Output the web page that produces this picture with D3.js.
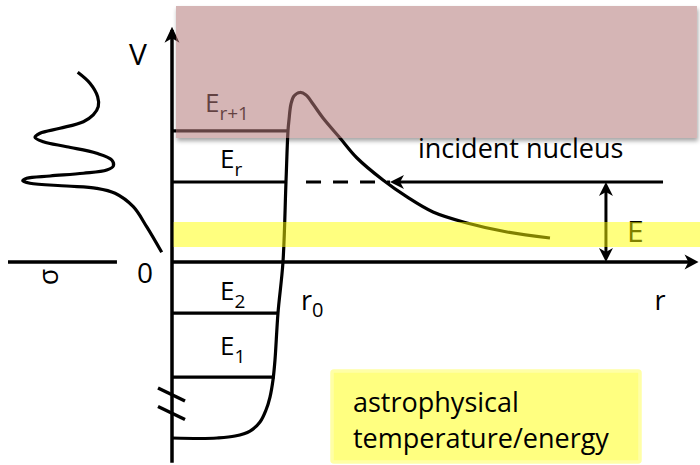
<!DOCTYPE html>
<html>
<head>
<meta charset="utf-8">
<script src="https://cdn.jsdelivr.net/npm/d3@7"></script>
<style>
  html, body { margin: 0; padding: 0; background: #fff; }
  svg { display: block; font-family: "Open Sans", sans-serif; }
</style>
</head>
<body>
<svg id="chart" width="700" height="465"></svg>
<script>
// ---------- data (r in arbitrary units, V in arbitrary energy units) ----------
const wellR = [0, 5.32, 8.56, 11.98, 14.83, 16.73, 17.87, 18.63, 19.2, 19.58, 20.15, 21.1, 21.67, 22.05, 22.24, 22.62, 23.19, 24.33, 25.48, 26.81, 28.71, 31.94, 35.17, 40.11, 44.68, 49.62, 56.08, 63.69, 71.86];
const wellV = [-22, -22.06, -22, -21.75, -21.13, -20, -18.5, -16.88, -14.75, -12.25, -6.38, 0, 10, 16.38, 17.75, 19.75, 20.75, 21.19, 20.88, 19.75, 18, 15.5, 13, 10.25, 8.13, 6.25, 4.88, 3.75, 3];

const sigmaVal = [5.56, 4.78, 4.29, 4.25, 4.57, 5.20, 6.69, 7.96, 8.28, 7.75, 6.26, 4.35, 3.39, 3.29, 3.71, 5.20, 7.32, 8.81, 9.06, 8.60, 6.26, 4.35, 3.18, 2.02, 1.17, 0.21];
const sigmaV   = [23.71, 22.34, 20.66, 19.41, 18.38, 17.54, 16.71, 16.09, 15.59, 15.04, 14.41, 13.59, 12.75, 12.0, 11.5, 11.09, 10.75, 10.46, 10.16, 9.84, 9.5, 9.21, 8.59, 6.91, 4.41, 1.21];

const levelSubs = ["1", "2", "r", "r+1"];
const levelV    = [-14.38, -6.38, 10, 16.38];
const levelREnd = [19.5, 20.3, 21.7, 22.2];

const incidentE = 10;
const incidentRStart = 93.35, incidentRTip = 41.44, dashRStart = 25.48;
const energyArrowR = 82.5;
const yellowBand = [1.875, 5.0];
const resonanceBand = [15.5, 32.0];
const boxLines = ["astrophysical", "temperature/energy"];

// ---------- scales ----------
const xS = d3.scaleLinear().domain([0, 100]).range([172, 698]);
const yS = d3.scaleLinear().domain([0, 10]).range([262, 182]);
const sS = d3.scaleLinear().domain([0, 10]).range([165, 8]);

const svg = d3.select("#chart");
const defs = svg.append("defs");
const f = defs.append("filter").attr("id", "shadow").attr("x", "-5%").attr("y", "-5%").attr("width", "110%").attr("height", "120%");
f.append("feColorMatrix").attr("in", "SourceAlpha").attr("type", "matrix")
  .attr("values", "0 0 0 0 0  0 0 0 0 0  0 0 0 0 0  0 0 0 20 0").attr("result", "solid");
f.append("feGaussianBlur").attr("in", "solid").attr("stdDeviation", 2.2).attr("result", "b");
f.append("feOffset").attr("in", "b").attr("dx", 1).attr("dy", 3).attr("result", "o");
f.append("feComposite").attr("in", "o").attr("in2", "solid").attr("operator", "out").attr("result", "oo");
f.append("feFlood").attr("flood-color", "#000").attr("flood-opacity", 0.35).attr("result", "fl");
f.append("feComposite").attr("in", "fl").attr("in2", "oo").attr("operator", "in").attr("result", "sh");
const fm = f.append("feMerge");
fm.append("feMergeNode").attr("in", "sh");
fm.append("feMergeNode").attr("in", "SourceGraphic");

function arrowHead(g, x, y, angleDeg, len, half) {
  g.append("path")
    .attr("d", `M0,0 L${-len},${-half} L${-len * 0.72},0 L${-len},${half} Z`)
    .attr("transform", `translate(${x},${y}) rotate(${angleDeg})`)
    .attr("fill", "#000");
}

// ---------- yellow info box ----------
svg.append("rect")
  .attr("x", 332).attr("y", 371).attr("width", 308).attr("height", 91).attr("rx", 2)
  .attr("fill", "#ffff80").attr("stroke", "#ffffa6").attr("stroke-width", 3.5);
svg.append("g").selectAll("text").data(boxLines).join("text")
  .attr("x", 353).attr("y", (d, i) => 412 + i * 36)
  .attr("font-size", 27).attr("fill", "#000").text(d => d);

const g = svg.append("g");

// ---------- axes ----------
g.append("line").attr("x1", xS(0)).attr("x2", xS(0)).attr("y1", yS(-25.1)).attr("y2", yS(29.0))
  .attr("stroke", "#000").attr("stroke-width", 3.5);
arrowHead(g, xS(0), yS(29.4), -90, 16, 7.5);
g.append("line").attr("x1", xS(0)).attr("x2", xS(99.2)).attr("y1", yS(0)).attr("y2", yS(0))
  .attr("stroke", "#000").attr("stroke-width", 3.5);
arrowHead(g, xS(100.1), yS(0), 0, 14, 7.5);
// sigma axis
g.append("line").attr("x1", sS(3.06)).attr("x2", sS(10)).attr("y1", yS(0)).attr("y2", yS(0))
  .attr("stroke", "#000").attr("stroke-width", 3.5);

// axis break marks
[-16.56, -18.88].forEach(v => {
  g.append("line")
    .attr("x1", xS(0) - 14).attr("y1", yS(v) - 6.5)
    .attr("x2", xS(0) + 13).attr("y2", yS(v) + 6.5)
    .attr("stroke", "#000").attr("stroke-width", 3.5);
});

// ---------- energy levels ----------
g.selectAll("line.level").data(levelV).join("line").attr("class", "level")
  .attr("x1", xS(0)).attr("x2", (d, i) => xS(levelREnd[i]))
  .attr("y1", d => yS(d)).attr("y2", d => yS(d))
  .attr("stroke", "#000").attr("stroke-width", 3.2);

const levelLabelPos = [[220, 355], [220, 300], [220, 168], [205, 112]];
levelSubs.forEach((s, i) => {
  const t = g.append("text").attr("x", levelLabelPos[i][0]).attr("y", levelLabelPos[i][1])
    .attr("font-size", 26).attr("fill", "#000");
  t.append("tspan").text("E");
  t.append("tspan").attr("font-size", 19).attr("dy", 8).text(s);
});

// ---------- potential curve ----------
const line = d3.line().x(d => xS(d[0])).y(d => yS(d[1])).curve(d3.curveCatmullRom.alpha(0.5));
g.append("path").datum(wellR.map((r, i) => [r, wellV[i]]))
  .attr("d", line).attr("fill", "none").attr("stroke", "#000").attr("stroke-width", 3.2)
  .attr("stroke-linejoin", "round");

// ---------- sigma curve ----------
const sLine = d3.line().x(d => sS(d[0])).y(d => yS(d[1])).curve(d3.curveCatmullRom.alpha(0.5));
g.append("path").datum(sigmaVal.map((s, i) => [s, sigmaV[i]]))
  .attr("d", sLine).attr("fill", "none").attr("stroke", "#000").attr("stroke-width", 3.2)
  .attr("stroke-linecap", "butt");

// ---------- incident nucleus ----------
g.append("line").attr("x1", xS(dashRStart)).attr("x2", xS(incidentRTip))
  .attr("y1", yS(incidentE)).attr("y2", yS(incidentE))
  .attr("stroke", "#000").attr("stroke-width", 3).attr("stroke-dasharray", "15,12");
g.append("line").attr("x1", xS(incidentRStart)).attr("x2", xS(incidentRTip) + 4)
  .attr("y1", yS(incidentE)).attr("y2", yS(incidentE))
  .attr("stroke", "#000").attr("stroke-width", 3);
arrowHead(g, xS(incidentRTip), yS(incidentE), 180, 14, 7);
g.append("text").attr("x", 418).attr("y", 158).attr("font-size", 27).attr("fill", "#000").text("incident nucleus");

// energy double arrow
g.append("line").attr("x1", xS(energyArrowR)).attr("x2", xS(energyArrowR))
  .attr("y1", yS(incidentE) + 6).attr("y2", yS(0) - 6)
  .attr("stroke", "#000").attr("stroke-width", 3);
arrowHead(g, xS(energyArrowR), yS(incidentE), -90, 14, 7);
arrowHead(g, xS(energyArrowR), yS(0), 90, 14, 7);
g.append("text").attr("x", 627).attr("y", 242).attr("font-size", 30).attr("fill", "#000").text("E");

// ---------- axis labels ----------
g.append("text").attr("x", 138).attr("y", 65).attr("font-size", 30).attr("text-anchor", "middle").text("V");
g.append("text").attr("x", 145).attr("y", 283).attr("font-size", 28).attr("text-anchor", "middle").text("0");
g.append("text").attr("x", 660).attr("y", 310).attr("font-size", 27).attr("text-anchor", "middle").text("r");
const r0 = g.append("text").attr("x", 301).attr("y", 310).attr("font-size", 27);
r0.append("tspan").text("r");
r0.append("tspan").attr("font-size", 20).attr("dy", 7).text("0");
g.append("text").attr("transform", "translate(47,277) rotate(-90)")
  .attr("font-size", 27).attr("text-anchor", "middle").attr("dominant-baseline", "central").text("σ");

// ---------- overlays ----------
svg.append("rect")
  .attr("x", xS(0.3)).attr("width", 700 - xS(0.3))
  .attr("y", yS(yellowBand[1])).attr("height", yS(yellowBand[0]) - yS(yellowBand[1]))
  .attr("fill", "rgb(255,255,0)").attr("fill-opacity", 0.5);

svg.append("rect")
  .attr("x", xS(0.76)).attr("width", xS(99.8) - xS(0.76))
  .attr("y", yS(resonanceBand[1])).attr("height", yS(resonanceBand[0]) - yS(resonanceBand[1]))
  .attr("fill", "rgb(179,120,119)").attr("fill-opacity", 0.55)
  .attr("filter", "url(#shadow)");
</script>
</body>
</html>
